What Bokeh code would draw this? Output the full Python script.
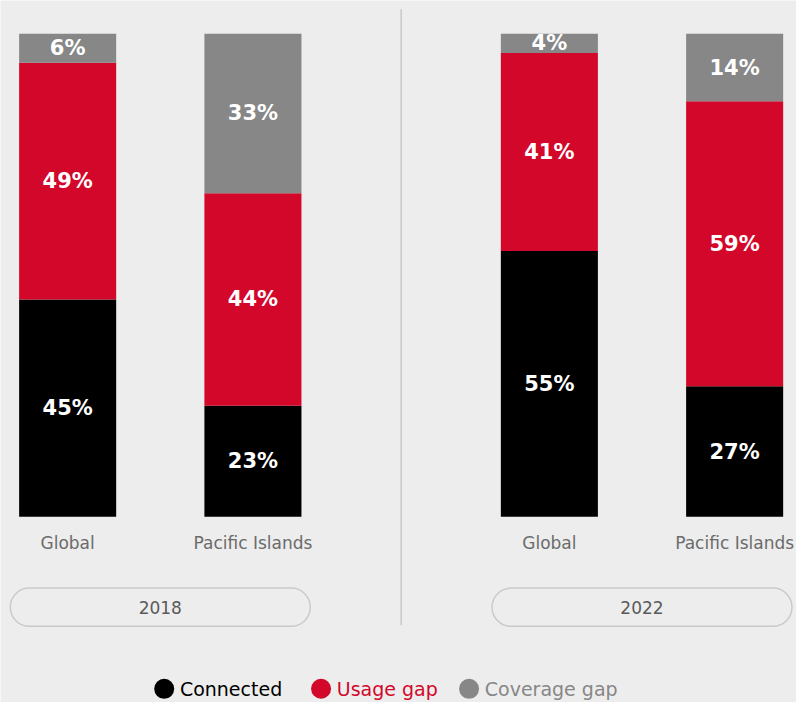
from bokeh.plotting import figure
from bokeh.models import ColumnDataSource, Range1d
from bokeh.core.properties import value
from bokeh.embed import file_html
from bokeh.resources import INLINE

# ---- data ----
years = ["2018", "2018", "2022", "2022"]
regions = ["Global", "Pacific Islands", "Global", "Pacific Islands"]
connected = [45, 23, 55, 27]
usage_gap = [49, 44, 41, 59]
coverage_gap = [6, 33, 4, 14]
series_names = ["Connected", "Usage gap", "Coverage gap"]
series_colors = ["#000000", "#d2072a", "#878787"]

# ---- layout constants ----
W, H = 796, 702
KX, KY = W / 812.0, H / 718.0   # fit the 812x718 design into the window
UNIT = 189.0 * KX      # px per category slot
GAP = 0.6              # extra slots between year groups
PXY = 4.94 * KY        # px per percentage point
BASE = 528 * KY        # px from top of the zero line
FONT = "DejaVu Sans"
BG = "#ededed"

year_list = sorted(set(years))
xpos = []
slot_count = {}
for yr in years:
    g = year_list.index(yr)
    j = slot_count.get(yr, 0)
    slot_count[yr] = j + 1
    xpos.append(g * (2 + GAP) + j + 0.5)

x_start = 0.5 - 68.5 * KX / UNIT
x_end = x_start + W / UNIT
y_start = -(H - BASE) / PXY
y_end = BASE / PXY


def sx(px):  # design px -> data x
    return x_start + px * KX / UNIT


def sy(py):  # design px -> data y
    return (BASE - py * KY) / PXY


p = figure(width=W, height=H, x_range=Range1d(x_start, x_end),
           y_range=Range1d(y_start, y_end), output_backend="svg",
           toolbar_location=None, min_border=0, x_axis_location=None,
           y_axis_location=None, background_fill_color=BG,
           border_fill_color=BG, outline_line_color=None)
p.grid.visible = False

src = ColumnDataSource(dict(x=xpos, year=years, region=regions,
                            connected=connected, usage_gap=usage_gap,
                            coverage_gap=coverage_gap))
p.vbar_stack(["connected", "usage_gap", "coverage_gap"], x="x",
             width=99 / 189.0, color=series_colors, line_color=None, source=src)

# value labels
lx, ly, lt = [], [], []
for i in range(len(years)):
    bottom = 0
    for v in (connected[i], usage_gap[i], coverage_gap[i]):
        lx.append(xpos[i])
        ly.append(bottom + v / 2)
        lt.append(f"{v}%")
        bottom += v
p.text(x=lx, y=ly, text=lt, text_align="center", text_baseline="middle",
       text_color="white", text_font=value(FONT), text_font_style="bold",
       text_font_size="21px")

# category labels
p.text(x=xpos, y=[sy(555)] * len(xpos), text=regions, text_align="center",
       text_baseline="middle", text_color="#6b6b6b", text_font=value(FONT),
       text_font_size="17px")

# divider
mid = (xpos[1] + xpos[2]) / 2
p.segment(x0=[mid], y0=[sy(9)], x1=[mid], y1=[sy(639)],
          line_color="#c8c8c8", line_width=1.5)

# year pills
centers = []
for yr in year_list:
    xs_ = [xpos[i] for i in range(len(years)) if years[i] == yr]
    centers.append(sum(xs_) / len(xs_))
half = 153 / 189.0
p.quad(left=[c - half for c in centers], right=[c + half for c in centers],
       top=sy(601), bottom=sy(640), fill_color=BG, line_color="#cacaca",
       line_width=1.5, border_radius=19)
p.text(x=centers, y=[sy(621)] * len(centers), text=year_list,
       text_align="center", text_baseline="middle", text_color="#5a5a5a",
       text_font=value(FONT), text_font_size="17px")

# legend
leg_y = sy(704)
dot_px = [167, 327, 478]
p.scatter(x=[sx(v) for v in dot_px], y=[leg_y] * 3, size=20,
          marker="circle", fill_color=series_colors, line_color=None)
p.text(x=[sx(v + 16) for v in dot_px], y=[leg_y] * 3, text=series_names,
       text_align="left", text_baseline="middle", text_color=series_colors,
       text_font=value(FONT), text_font_size="19px")

open("out.html", "w").write(file_html(p, INLINE))
